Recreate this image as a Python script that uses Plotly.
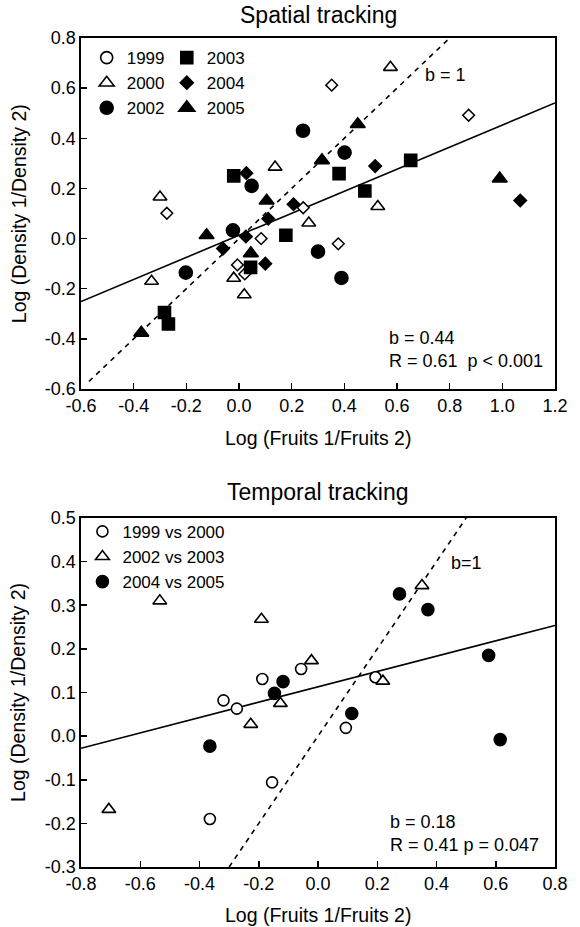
import plotly.graph_objects as go

# ---------------- Spatial tracking data ----------------
sp_1999_x = [-0.274, 0.352, 0.872, 0.244, 0.377, 0.084, -0.006, 0.022]
sp_1999_y = [0.101, 0.612, 0.492, 0.123, -0.021, 0.000, -0.105, -0.141]
sp_2000_x = [-0.300, 0.137, 0.575, 0.527, 0.265, -0.332, -0.020, 0.020]
sp_2000_y = [0.166, 0.285, 0.683, 0.128, 0.062, -0.170, -0.158, -0.224]
sp_2002_x = [0.048, 0.243, 0.401, -0.023, -0.202, 0.300, 0.389]
sp_2002_y = [0.210, 0.430, 0.343, 0.033, -0.136, -0.052, -0.157]
sp_2003_x = [-0.020, 0.380, 0.652, 0.478, 0.178, 0.044, -0.283, -0.268]
sp_2003_y = [0.250, 0.259, 0.312, 0.190, 0.013, -0.115, -0.295, -0.341]
sp_2004_x = [0.028, 0.207, 0.517, 1.068, 0.111, 0.026, -0.061, 0.100]
sp_2004_y = [0.261, 0.137, 0.289, 0.152, 0.079, 0.008, -0.040, -0.100]
sp_2005_x = [0.105, 0.451, 0.315, 0.990, -0.123, 0.045, -0.371]
sp_2005_y = [0.151, 0.456, 0.312, 0.239, 0.013, -0.059, -0.376]
sp_fit_slope = 0.44
sp_fit_intercept = 0.013
sp_fit_xrange = [-0.6, 1.2]
sp_one_xrange = [-0.57, 0.80]
sp_x_ticks = ["-0.6", "-0.4", "-0.2", "0.0", "0.2", "0.4", "0.6", "0.8", "1.0", "1.2"]
sp_y_ticks = ["-0.6", "-0.4", "-0.2", "0.0", "0.2", "0.4", "0.6", "0.8"]

# ---------------- Temporal tracking data ----------------
tp_9900_x = [-0.365, -0.319, -0.274, -0.188, -0.155, -0.057, 0.094, 0.194]
tp_9900_y = [-0.190, 0.082, 0.063, 0.131, -0.106, 0.154, 0.019, 0.135]
tp_0203_x = [-0.706, -0.534, -0.227, -0.191, -0.127, -0.022, 0.219, 0.351]
tp_0203_y = [-0.168, 0.310, 0.027, 0.268, 0.075, 0.173, 0.126, 0.345]
tp_0405_x = [-0.365, -0.147, -0.118, 0.114, 0.275, 0.371, 0.576, 0.615]
tp_0405_y = [-0.023, 0.098, 0.125, 0.052, 0.326, 0.290, 0.185, -0.008]
tp_fit_slope = 0.176
tp_fit_intercept = 0.113
tp_fit_xrange = [-0.8, 0.8]
tp_one_xrange = [-0.30, 0.50]
tp_x_ticks = ["-0.8", "-0.6", "-0.4", "-0.2", "0.0", "0.2", "0.4", "0.6", "0.8"]
tp_y_ticks = ["-0.3", "-0.2", "-0.1", "0.0", "0.1", "0.2", "0.3", "0.4", "0.5"]

FONT = "Liberation Sans, Arial, sans-serif"
BLACK = "black"

fig = go.Figure()

def line_xy(xr, slope, icpt):
    return xr, [icpt + slope * v for v in xr]

# ---- top panel lines
fx, fy = line_xy(sp_fit_xrange, sp_fit_slope, sp_fit_intercept)
fig.add_trace(go.Scatter(x=fx, y=fy, mode="lines", line=dict(color=BLACK, width=1.6),
                         showlegend=False, xaxis="x", yaxis="y", hoverinfo="skip"))
ox, oy = line_xy(sp_one_xrange, 1.0, 0.0)
fig.add_trace(go.Scatter(x=ox, y=oy, mode="lines", line=dict(color=BLACK, width=1.6, dash="5px,5px"),
                         showlegend=False, xaxis="x", yaxis="y", hoverinfo="skip"))

def pts(x, y, symbol, size, name, legend, xa, ya, showlegend=True, lw=1.6):
    fill = "white" if "open" in symbol else BLACK
    sym = symbol.replace("-open", "")
    return go.Scatter(x=x, y=y, mode="markers", name=name, legend=legend,
                      marker=dict(symbol=sym, size=size, color=fill,
                                  line=dict(color=BLACK, width=lw)),
                      showlegend=showlegend, xaxis=xa, yaxis=ya)

# 1999 plotted as open diamonds, legend shows open circle
fig.add_trace(pts(sp_1999_x, sp_1999_y, "diamond-open", 9, "1999", "legend", "x", "y", showlegend=False, lw=1.5))
fig.add_trace(pts(sp_2000_x, sp_2000_y, "triangle-up-open", 12, "2000", "legend", "x", "y", showlegend=False, lw=1.6))
fig.add_trace(pts(sp_2002_x, sp_2002_y, "circle", 13, "2002", "legend", "x", "y", showlegend=False))
fig.add_trace(pts(sp_2003_x, sp_2003_y, "square", 12, "2003", "legend2", "x", "y", showlegend=False))
fig.add_trace(pts(sp_2004_x, sp_2004_y, "diamond", 9.5, "2004", "legend2", "x", "y", showlegend=False))
fig.add_trace(pts(sp_2005_x, sp_2005_y, "triangle-up", 13, "2005", "legend2", "x", "y", showlegend=False))

# legend entries (top)
for nm, sym, sz, lg in [("1999", "circle-open", 12, "legend"), ("2000", "triangle-up-open", 13, "legend"),
                        ("2002", "circle", 13, "legend"), ("2003", "square", 12, "legend2"),
                        ("2004", "diamond", 10, "legend2"), ("2005", "triangle-up", 14, "legend2")]:
    fig.add_trace(pts([None], [None], sym, sz, nm, lg, "x", "y"))

# ---- bottom panel lines
fx, fy = line_xy(tp_fit_xrange, tp_fit_slope, tp_fit_intercept)
fig.add_trace(go.Scatter(x=fx, y=fy, mode="lines", line=dict(color=BLACK, width=1.6),
                         showlegend=False, xaxis="x2", yaxis="y2", hoverinfo="skip"))
ox, oy = line_xy(tp_one_xrange, 1.0, 0.0)
fig.add_trace(go.Scatter(x=ox, y=oy, mode="lines", line=dict(color=BLACK, width=1.6, dash="5px,5px"),
                         showlegend=False, xaxis="x2", yaxis="y2", hoverinfo="skip"))

fig.add_trace(pts(tp_9900_x, tp_9900_y, "circle-open", 11, "1999 vs 2000", "legend3", "x2", "y2"))
fig.add_trace(pts(tp_0203_x, tp_0203_y, "triangle-up-open", 12, "2002 vs 2003", "legend3", "x2", "y2"))
fig.add_trace(pts(tp_0405_x, tp_0405_y, "circle", 12, "2004 vs 2005", "legend3", "x2", "y2"))

def axis(ticks, rng, domain, anchor):
    return dict(range=rng, domain=domain, anchor=anchor,
                tickmode="array", tickvals=[float(t) for t in ticks], ticktext=ticks,
                ticks="inside", ticklen=6, tickwidth=1.5, tickcolor=BLACK,
                showline=True, linecolor=BLACK, linewidth=1.6, mirror=True,
                showgrid=False, zeroline=False,
                tickfont=dict(family=FONT, size=18, color=BLACK))

legend_common = dict(bgcolor="rgba(0,0,0,0)", borderwidth=0, xanchor="left", yanchor="top",
                     font=dict(family=FONT, size=17, color=BLACK), tracegroupgap=0,
                     itemclick=False, itemdoubleclick=False)

fig.update_layout(
    width=580, height=927,
    margin=dict(l=81, r=15, t=38, b=60),
    paper_bgcolor="white", plot_bgcolor="white",
    font=dict(family=FONT, size=18, color=BLACK),
    xaxis=axis(sp_x_ticks, [-0.6, 1.2], [0, 1], "y"),
    yaxis=axis(sp_y_ticks, [-0.6, 0.8], [0.5766, 1.0], "x"),
    xaxis2=axis(tp_x_ticks, [-0.8, 0.8], [0, 1], "y2"),
    yaxis2=axis(tp_y_ticks, [-0.3, 0.5], [0.0, 0.421], "x2"),
    legend=dict(x=0.012, y=0.9975, **legend_common),
    legend2=dict(x=0.181, y=0.9975, **legend_common),
    legend3=dict(x=0.003, y=0.426, **legend_common),
    showlegend=True,
)

ann_font = dict(family=FONT, size=19.5, color=BLACK)
txt_font = dict(family=FONT, size=18, color=BLACK)
annotations = [
    dict(text="Spatial tracking", xref="paper", yref="paper", x=0.5, y=1.028, showarrow=False,
         font=dict(family=FONT, size=23, color=BLACK), xanchor="center", yanchor="middle"),
    dict(text="Temporal tracking", xref="paper", yref="paper", x=0.5, y=0.452, showarrow=False,
         font=dict(family=FONT, size=23, color=BLACK), xanchor="center", yanchor="middle"),
    dict(text="Log (Fruits 1/Fruits 2)", xref="paper", yref="paper", x=0.5, y=0.5175, showarrow=False,
         font=ann_font, xanchor="center", yanchor="middle"),
    dict(text="Log (Fruits 1/Fruits 2)", xref="paper", yref="paper", x=0.5, y=-0.0585, showarrow=False,
         font=ann_font, xanchor="center", yanchor="middle"),
    dict(text="Log (Density 1/Density 2)", xref="paper", yref="paper", x=-0.132, y=0.788, showarrow=False,
         font=ann_font, textangle=-90, xanchor="center", yanchor="middle"),
    dict(text="Log (Density 1/Density 2)", xref="paper", yref="paper", x=-0.132, y=0.2105, showarrow=False,
         font=ann_font, textangle=-90, xanchor="center", yanchor="middle"),
    dict(text="b = 1", xref="x", yref="y", x=0.70, y=0.652, showarrow=False, font=txt_font,
         xanchor="left", yanchor="middle"),
    dict(text="b = 0.44", xref="x", yref="y", x=0.562, y=-0.395, showarrow=False, font=txt_font,
         xanchor="left", yanchor="middle"),
    dict(text="R = 0.61  p < 0.001", xref="x", yref="y", x=0.562, y=-0.488, showarrow=False, font=txt_font,
         xanchor="left", yanchor="middle"),
    dict(text="b=1", xref="x2", yref="y2", x=0.443, y=0.397, showarrow=False, font=txt_font,
         xanchor="left", yanchor="middle"),
    dict(text="b = 0.18", xref="x2", yref="y2", x=0.236, y=-0.196, showarrow=False, font=txt_font,
         xanchor="left", yanchor="middle"),
    dict(text="R = 0.41 p = 0.047", xref="x2", yref="y2", x=0.236, y=-0.250, showarrow=False, font=txt_font,
         xanchor="left", yanchor="middle"),
]
fig.update_layout(annotations=annotations)

# remove the browser's default 8px body margin so the 580x927 figure fills the window exactly
fig.write_html("out.html",
               config={"displayModeBar": False, "staticPlot": True},
               post_script="document.body.style.margin='0px';document.body.style.padding='0px';")
